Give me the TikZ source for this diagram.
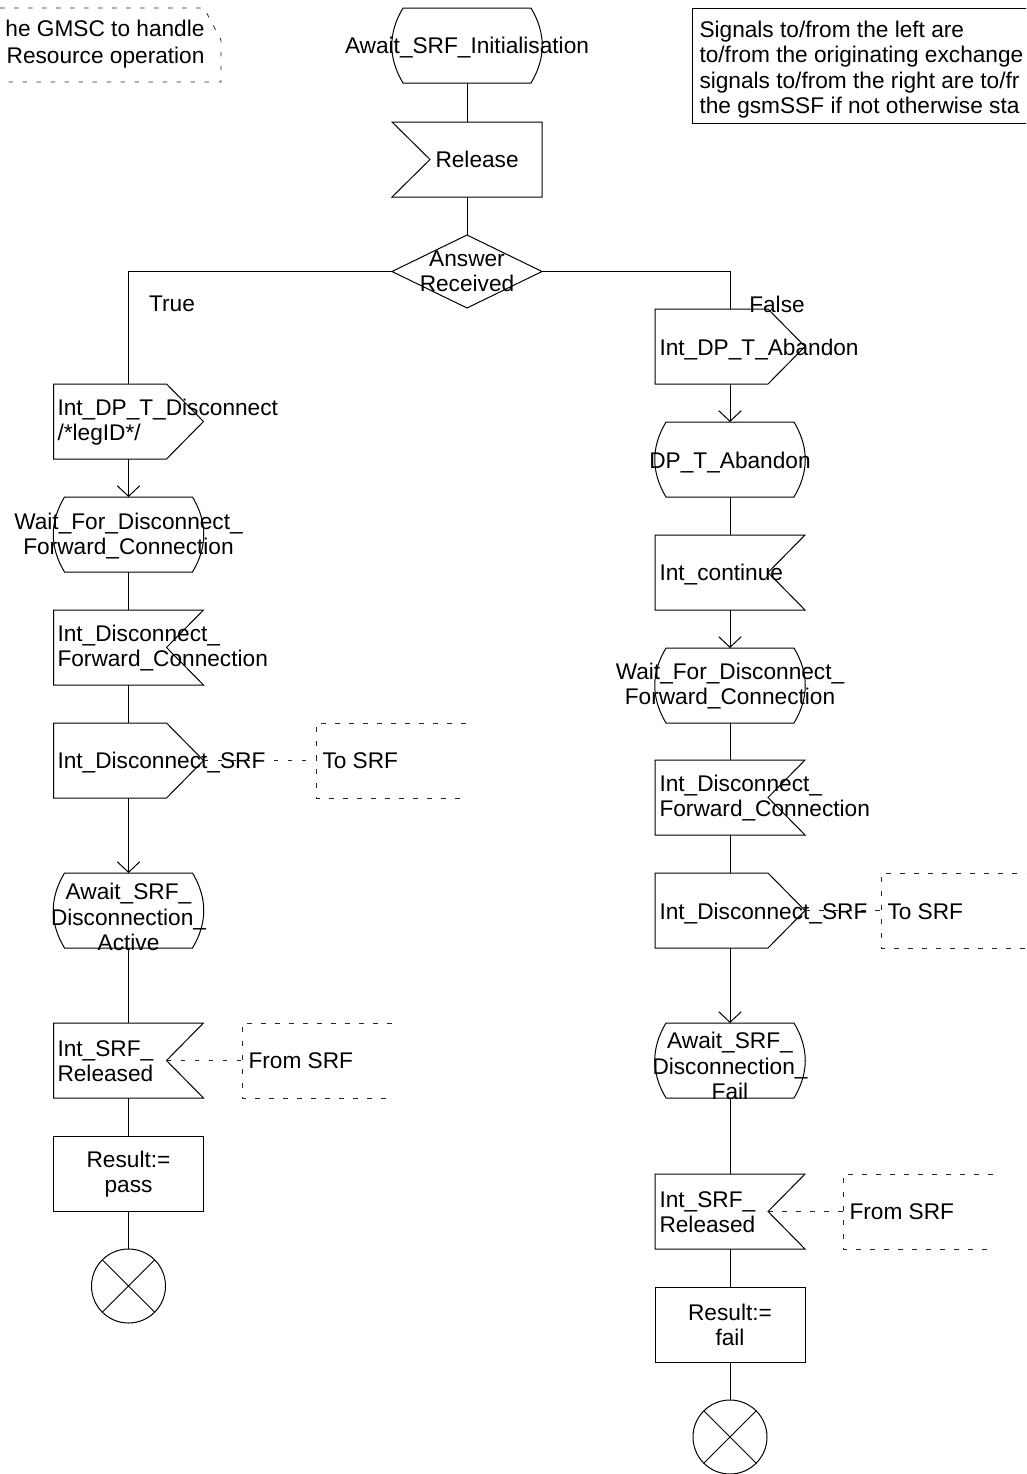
\documentclass[tikz,border=0pt]{standalone}
\usepackage{fontspec}
\setmainfont{Liberation Sans}
\usetikzlibrary{calc,arrows.meta}
\newcommand\SDLstate[1]{\draw ($(#1.north west)+(11,0)$) -- ($(#1.north east)+(-11,0)$)
  .. controls ($(#1.north east)+(4,25)$) and ($(#1.south east)+(4,-25)$) .. ($(#1.south east)+(-11,0)$)
  -- ($(#1.south west)+(11,0)$)
  .. controls ($(#1.south west)+(-4,-25)$) and ($(#1.north west)+(-4,25)$) .. cycle;}
\newcommand\SDLinR[1]{\draw (#1.north west) -- (#1.north east) -- ($(#1.east)+(-37,0)$) -- (#1.south east) -- (#1.south west) -- cycle;}
\newcommand\SDLinL[1]{\draw (#1.north west) -- (#1.north east) -- (#1.south east) -- (#1.south west) -- ($(#1.west)+(38,0)$) -- cycle;}
\newcommand\SDLout[1]{\draw (#1.north west) -- ($(#1.north east)+(-37,0)$) -- (#1.east) -- ($(#1.south east)+(-37,0)$) -- (#1.south west) -- cycle;}
\newcommand\SDLtask[1]{\draw (#1.north west) rectangle (#1.south east);}
\newcommand\SDLdec[1]{\draw (#1.north) -- (#1.east) -- (#1.south) -- (#1.west) -- cycle;}
\newcommand\SDLstop[1]{\draw (#1.north west) -- (#1.south east) (#1.north east) -- (#1.south west);}
\newcommand\SDLcmt[1]{\draw[cmt] (#1.north east) -- (#1.north west) -- (#1.south west) -- (#1.south east);}
\begin{document}
\begin{tikzpicture}[x=0.75pt,y=-0.75pt,line width=0.75pt,
  blk/.style={rectangle,minimum width=112.5pt,minimum height=56.25pt,inner sep=0pt,outer sep=0pt},
  decbox/.style={blk,minimum height=54.75pt},
  cmtbox/.style={blk,anchor=west},
  stopc/.style={circle,draw,minimum size=55.5pt,inner sep=0pt,outer sep=0pt},
  txt/.style={font=\fontsize{17}{19}\selectfont,inner sep=0pt,align=center},
  ltxt/.style={txt,align=left,anchor=west},
  notetxt/.style={font=\fontsize{17}{19}\selectfont,inner sep=0pt,anchor=base west},
  cmt/.style={dash pattern=on 3.5pt off 7pt,line width=0.6pt,black!85},
  arr/.style={-{Straight Barb[length=8pt,width=17pt]}},
]
\useasboundingbox (0,0) rectangle (1026,1474);
\clip (0,0) rectangle (1026,1474);

% ---- top comments
\draw[cmt] (0,8) -- (204,8) -- (221,40) -- (221,82) -- (0,82);
\node[txt,align=right,anchor=east,font=\fontsize{17}{20.25}\selectfont] (topnote) at (205,44) {he GMSC to handle\\Resource operation};
\draw (692,8) rectangle (1040,123);
\node[notetxt] (side1) at (699,37) {Signals to/from the left are};
\node[notetxt] (side2) at (699,62.5) {to/from the originating exchange};
\node[notetxt] (side3) at (699,88) {signals to/from the right are to/fr};
\node[notetxt] (side4) at (699,113.5) {the gsmSSF if not otherwise sta};

% ---- centre column
\node[blk] (sInit) at (467,45.5) {};
\node[blk] (iRel) at (467,159.5) {};
\node[decbox] (dAns) at (467,271.5) {};
\SDLstate{sInit} \SDLinL{iRel} \SDLdec{dAns}
\node[txt] at (467,48) {Await\_SRF\_Initialisation};
\node[ltxt] at (435,159.5) {Release};
\node[txt] at (467,271) {Answer\\Received};

% ---- left column
\node[blk] (oDisc) at (128.5,421.5) {};
\node[blk] (sWait1) at (128.5,534.5) {};
\node[blk] (iFwd1) at (128.5,647.5) {};
\node[blk] (oSRF1) at (128.5,760.5) {};
\node[blk] (sAct) at (128.5,910.5) {};
\node[blk] (iRel1) at (128.5,1060.5) {};
\node[blk] (tPass) at (128.5,1173.5) {};
\node[stopc] (stop1) at (128.5,1286) {};
\SDLout{oDisc} \SDLstate{sWait1} \SDLinR{iFwd1} \SDLout{oSRF1}
\SDLstate{sAct} \SDLinR{iRel1} \SDLtask{tPass} \SDLstop{stop1}
\node[ltxt] at (57,422) {Int\_DP\_T\_Disconnect\\/*legID*/};
\node[txt] at (128.5,536) {Wait\_For\_Disconnect\_\\Forward\_Connection};
\node[ltxt] at (57,648) {Int\_Disconnect\_\\Forward\_Connection};
\node[ltxt] at (57,763) {Int\_Disconnect\_SRF};
\node[txt] at (128.5,917) {Await\_SRF\_\\Disconnection\_\\Active};
\node[ltxt] at (57,1061) {Int\_SRF\_\\Released};
\node[txt] at (128.5,1174) {Result:=\\pass};

% ---- right column
\node[blk] (oAb) at (730,346.5) {};
\node[blk] (sAb) at (730,459.5) {};
\node[blk] (iCont) at (730,572.5) {};
\node[blk] (sWait2) at (730,685.5) {};
\node[blk] (iFwd2) at (730,797.5) {};
\node[blk] (oSRF2) at (730,910.5) {};
\node[blk] (sFail) at (730,1060.5) {};
\node[blk] (iRel2) at (730,1211.5) {};
\node[blk] (tFail) at (730,1324.5) {};
\node[stopc] (stop2) at (730,1437) {};
\SDLout{oAb} \SDLstate{sAb} \SDLinR{iCont} \SDLstate{sWait2} \SDLinR{iFwd2}
\SDLout{oSRF2} \SDLstate{sFail} \SDLinR{iRel2} \SDLtask{tFail} \SDLstop{stop2}
\node[ltxt] at (659,349.5) {Int\_DP\_T\_Abandon};
\node[txt] at (730,463) {DP\_T\_Abandon};
\node[ltxt] at (659,574.5) {Int\_continue};
\node[txt] at (730,686) {Wait\_For\_Disconnect\_\\Forward\_Connection};
\node[ltxt] at (659,798) {Int\_Disconnect\_\\Forward\_Connection};
\node[ltxt] at (659,914) {Int\_Disconnect\_SRF};
\node[txt] at (730,1066) {Await\_SRF\_\\Disconnection\_\\Fail};
\node[ltxt] at (659,1212) {Int\_SRF\_\\Released};
\node[txt] at (730,1325) {Result:=\\fail};

% ---- comment boxes
\node[cmtbox] (c1) at (316,760.5) {};
\node[cmtbox] (c2) at (881,910.5) {};
\node[cmtbox] (c3) at (242,1060.5) {};
\node[cmtbox] (c4) at (843,1211.5) {};
\SDLcmt{c1} \SDLcmt{c2} \SDLcmt{c3} \SDLcmt{c4}
\node[ltxt] at (322,761) {To SRF};
\node[ltxt] at (887,912) {To SRF};
\node[ltxt] at (248,1061) {From SRF};
\node[ltxt] at (849,1212) {From SRF};
\coordinate (n1) at ($(iRel1.east)+(-37,0)$);
\coordinate (n2) at ($(iRel2.east)+(-37,0)$);
\draw[cmt] (oSRF1.east) -- (c1.west);
\draw[cmt] (oSRF2.east) -- (c2.west);
\draw[cmt] (n1) -- (c3.west);
\draw[cmt] (n2) -- (c4.west);

% ---- connectors
\draw (sInit.south) -- (iRel.north);
\draw (iRel.south) -- (dAns.north);
\draw (dAns.west) -| (oDisc.north);
\draw (dAns.east) -| (oAb.north);
\node[txt] (lTrue) at (172,304) {True};
\node[txt] (lFalse) at (777,304) {False};
\draw[arr] (oDisc.south) -- (sWait1.north);
\draw (sWait1.south) -- (iFwd1.north);
\draw (iFwd1.south) -- (oSRF1.north);
\draw[arr] (oSRF1.south) -- (sAct.north);
\draw (sAct.south) -- (iRel1.north);
\draw (iRel1.south) -- (tPass.north);
\draw (tPass.south) -- (stop1.north);
\draw[arr] (oAb.south) -- (sAb.north);
\draw (sAb.south) -- (iCont.north);
\draw[arr] (iCont.south) -- (sWait2.north);
\draw (sWait2.south) -- (iFwd2.north);
\draw (iFwd2.south) -- (oSRF2.north);
\draw[arr] (oSRF2.south) -- (sFail.north);
\draw (sFail.south) -- (iRel2.north);
\draw (iRel2.south) -- (tFail.north);
\draw (tFail.south) -- (stop2.north);
\end{tikzpicture}
\end{document}
